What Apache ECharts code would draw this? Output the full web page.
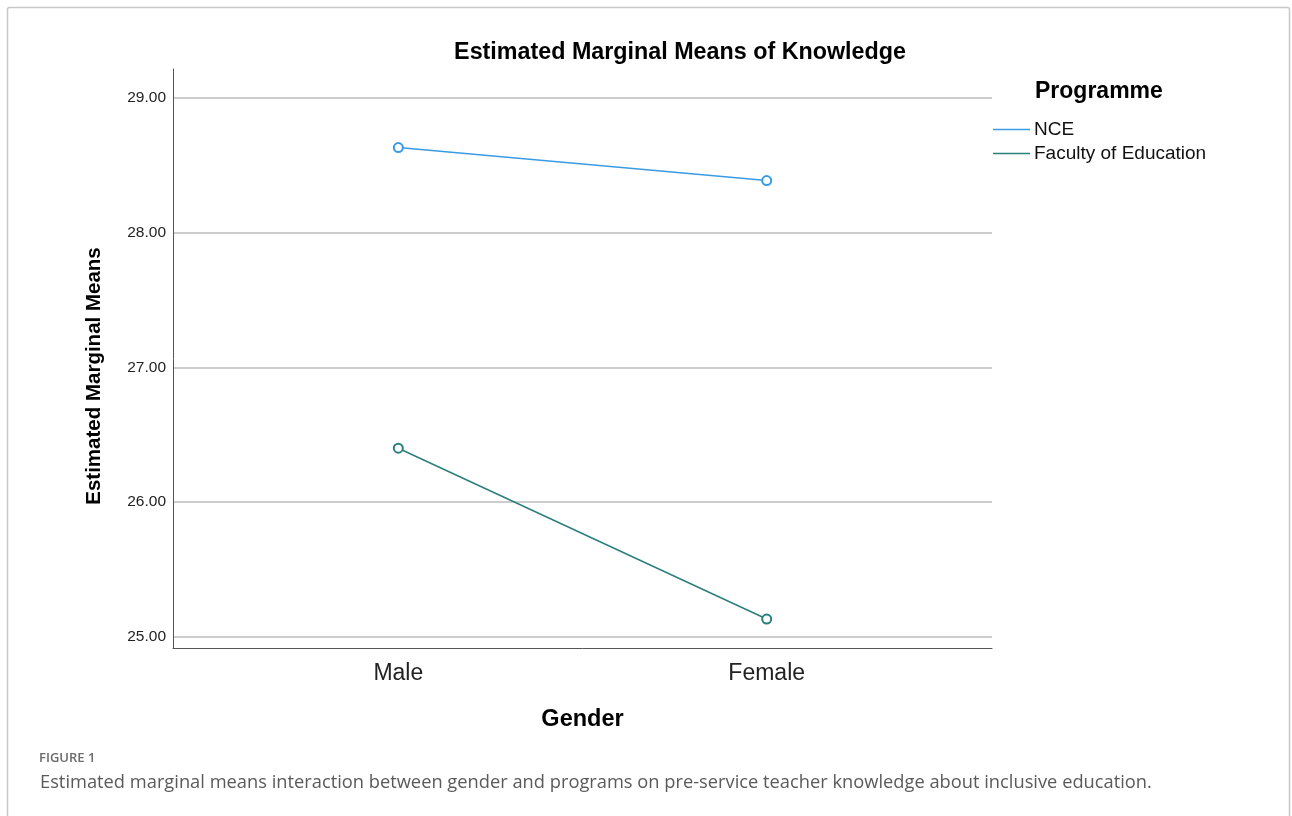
<!DOCTYPE html>
<html>
<head>
<meta charset="utf-8">
<script src="https://cdn.jsdelivr.net/npm/echarts@6/dist/echarts.min.js"></script>
<style>
  html, body { margin: 0; padding: 0; background: #ffffff; }
  #chart { width: 1292px; height: 816px; }
</style>
</head>
<body>
<div id="chart"></div>
<script>
// Gender groups on the horizontal axis
const genders = ['Male', 'Female'];
// Estimated marginal means of knowledge per programme
const nceMeans = [28.63, 28.385];
const facultyMeans = [26.40, 25.133];
const programmes = ['NCE', 'Faculty of Education'];
// Vertical axis tick values
const yTicks = [25, 26, 27, 28, 29];

const chart = echarts.init(document.getElementById('chart'));

const toPoints = vals => vals.map((v, i) => [i, v]);
const labelFont = '"Liberation Sans", Arial, sans-serif';
const captionFont = '"Open Sans", "Noto Sans", sans-serif';

chart.setOption({
  backgroundColor: '#ffffff',
  animation: false,
  title: {
    text: 'Estimated Marginal Means of Knowledge',
    left: 675,
    textAlign: 'center',
    top: 36,
    textStyle: { fontFamily: labelFont, fontSize: 23.3, fontWeight: 'bold', color: '#000' }
  },
  legend: {
    orient: 'vertical',
    left: 988,
    top: 115,
    icon: 'rect',
    itemWidth: 37,
    itemHeight: 1.5,
    itemGap: 5,
    data: programmes,
    textStyle: { fontFamily: labelFont, fontSize: 19, color: '#111', padding: [0, 0, 0, -1] }
  },
  grid: { left: 173, top: 69, width: 819, height: 579, containLabel: false },
  xAxis: {
    type: 'value',
    min: -0.6116,
    max: 1.6116,
    name: 'Gender',
    nameLocation: 'middle',
    nameGap: 60,
    nameTextStyle: { fontFamily: labelFont, fontSize: 23.5, fontWeight: 'bold', color: '#000' },
    axisLine: { show: true, onZero: false, lineStyle: { color: '#555', width: 1 } },
    axisTick: { show: false },
    splitLine: { show: false },
    axisLabel: {
      customValues: genders.map((g, i) => i),
      formatter: v => genders[Math.round(v)],
      fontFamily: labelFont,
      fontSize: 23,
      color: '#222',
      margin: 14
    }
  },
  yAxis: {
    type: 'value',
    min: 24.918,
    max: 29.213,
    axisLine: { show: true, onZero: false, lineStyle: { color: '#555', width: 1 } },
    axisTick: { show: false, customValues: yTicks },
    splitLine: { show: true, lineStyle: { color: '#bdbdbd', width: 1.5 } },
    axisLabel: {
      customValues: yTicks,
      formatter: v => v.toFixed(2),
      fontFamily: labelFont,
      fontSize: 15.5,
      color: '#222',
      margin: 7
    }
  },
  series: [
    {
      name: programmes[0],
      type: 'line',
      data: toPoints(nceMeans),
      color: '#3a9be3',
      symbol: 'emptyCircle',
      symbolSize: 9,
      lineStyle: { width: 1.5, color: '#3a9be3' },
      itemStyle: { color: '#3a9be3', borderWidth: 1.8 }
    },
    {
      name: programmes[1],
      type: 'line',
      data: toPoints(facultyMeans),
      color: '#2b7f7c',
      symbol: 'emptyCircle',
      symbolSize: 9,
      lineStyle: { width: 1.5, color: '#2b7f7c' },
      itemStyle: { color: '#2b7f7c', borderWidth: 1.8 }
    }
  ],
  graphic: [
    {
      type: 'rect',
      shape: { x: 7.5, y: 7.5, width: 1282, height: 830, r: 2 },
      style: { fill: 'none', stroke: '#c8c8c8', lineWidth: 1.5 },
      silent: true
    },
    {
      // vertical axis title
      type: 'text',
      x: 94,
      y: 376,
      rotation: Math.PI / 2,
      style: {
        text: 'Estimated Marginal Means',
        font: 'bold 20.5px ' + labelFont,
        fill: '#000',
        align: 'center',
        verticalAlign: 'middle'
      }
    },
    {
      type: 'text',
      left: 1035,
      top: 80,
      style: { text: 'Programme', font: 'bold 23px ' + labelFont, fill: '#000' }
    },
    {
      type: 'text',
      left: 39,
      top: 752,
      style: { text: 'FIGURE 1', font: '600 13px ' + captionFont, fill: '#6b6b6b', letterSpacing: 1.2 }
    },
    {
      type: 'text',
      left: 40,
      top: 774,
      style: {
        text: 'Estimated marginal means interaction between gender and programs on pre-service teacher knowledge about inclusive education.',
        font: '18.3px ' + captionFont,
        fill: '#5a5a5a'
      }
    }
  ]
});
</script>
</body>
</html>
